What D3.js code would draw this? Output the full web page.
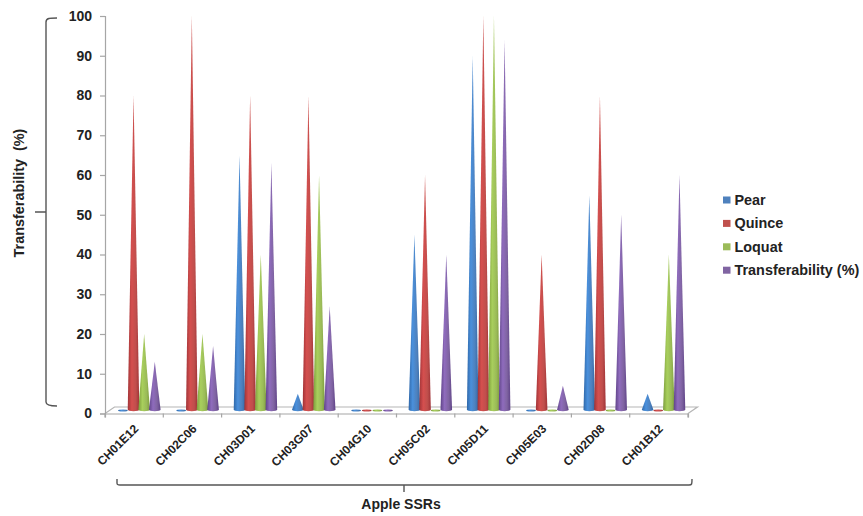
<!DOCTYPE html>
<html>
<head>
<meta charset="utf-8">
<script src="https://cdn.jsdelivr.net/npm/d3@7"></script>
<style>
  html, body { margin: 0; padding: 0; background: #fff; }
  svg { display: block; font-family: "Liberation Sans", Arial, sans-serif; }
  .y-axis text { font-size: 14px; font-weight: bold; fill: #222; }
  .x-axis text { font-size: 12px; font-weight: bold; fill: #222; }
  .axis path, .axis line { stroke: #a6a6a6; stroke-width: 1.2; }
</style>
</head>
<body>
<svg id="chart" width="863" height="516"></svg>
<script>
const categories = ["CH01E12", "CH02C06", "CH03D01", "CH03G07", "CH04G10", "CH05C02", "CH05D11", "CH05E03", "CH02D08", "CH01B12"];
const seriesNames = ["Pear", "Quince", "Loquat", "Transferability (%)"];
const pear = [0, 0, 65, 5, 0, 45, 90, 0, 55, 5];
const quince = [80, 100, 80, 80, 0, 60, 100, 40, 80, 0];
const loquat = [20, 20, 40, 60, 0, 0, 100, 0, 0, 40];
const transferability = [13, 17, 63, 27, 0, 40, 94, 7, 50, 60];
const yTicks = [0, 10, 20, 30, 40, 50, 60, 70, 80, 90, 100];
const colors = ["#4f81bd", "#c0504d", "#9bbb59", "#8064a2"];
const darkColors = ["#2f67a8", "#a03236", "#7c9c3c", "#5f4388"];
const lightColors = ["#4a90dc", "#d5504f", "#a8cf5c", "#8f6cbd"];

const svg = d3.select("#chart");
const margin = { top: 16, left: 105, bottom: 413.5, right: 688 };
const depth = { x: 9.5, y: 6.5 };

const x = d3.scaleBand().domain(categories).range([margin.left, margin.right]);
const y = d3.scaleLinear().domain([0, 100]).range([margin.bottom, margin.top]);
const xSeries = d3.scaleBand().domain(seriesNames).range([0, 42.5]);

const allSeries = [pear, quince, loquat, transferability];

// Gradients, one per series
const defs = svg.append("defs");
seriesNames.forEach((name, i) => {
  const g = defs.append("linearGradient").attr("id", "cone" + i);
  g.append("stop").attr("offset", "0%").attr("stop-color", darkColors[i]);
  g.append("stop").attr("offset", "35%").attr("stop-color", lightColors[i]);
  g.append("stop").attr("offset", "70%").attr("stop-color", colors[i]);
  g.append("stop").attr("offset", "100%").attr("stop-color", darkColors[i]);
});

// The source is a soft scan, thin cone tips fade out
const soft = defs.append("filter").attr("id", "soft")
  .attr("x", "-40%").attr("width", "180%");
soft.append("feGaussianBlur").attr("stdDeviation", 0.55);

// Floor of the 3D plot
const floorY = y(0), backY = floorY - depth.y;
svg.append("path")
  .attr("d", `M${margin.left},${floorY}L${margin.left + depth.x},${backY}L${margin.right + depth.x},${backY}L${margin.right},${floorY}`)
  .attr("fill", "#fff")
  .attr("stroke", "#b5b5b5")
  .attr("stroke-width", 1.2);

// Axes
svg.append("g")
  .attr("class", "axis y-axis")
  .attr("transform", `translate(${margin.left},0)`)
  .call(d3.axisLeft(y).tickValues(yTicks).tickSize(5).tickPadding(8));

const xAxis = svg.append("g")
  .attr("class", "axis x-axis")
  .attr("transform", `translate(0,${floorY})`)
  .call(d3.axisBottom(x).tickSizeOuter(4).tickSizeInner(0).tickFormat(d => d));

// Ticks sit on the band edges, not the band centres
xAxis.selectAll(".tick line").remove();
xAxis.selectAll(".band-tick")
  .data(d3.range(categories.length + 1))
  .enter().append("line")
  .attr("class", "band-tick")
  .attr("x1", d => margin.left + d * x.bandwidth())
  .attr("x2", d => margin.left + d * x.bandwidth())
  .attr("y1", 0).attr("y2", 4);

xAxis.selectAll(".tick text")
  .attr("text-anchor", "end")
  .attr("transform", "translate(2,13) rotate(-45)")
  .attr("dx", 0).attr("dy", "0.35em").attr("y", 0).attr("x", 0);

// Cones
const baseY = floorY - 3.8;
const rx = 5.8, ry = 1.6;
const coneLeft = c => x(c) + 12.6;

seriesNames.forEach((name, i) => {
  svg.append("g").attr("filter", "url(#soft)").selectAll("path")
    .data(categories.map((c, k) => ({ c, v: allSeries[i][k] })))
    .enter().append("path")
    .attr("fill", `url(#cone${i})`)
    .attr("d", d => {
      const cx = coneLeft(d.c) + xSeries(name) + xSeries.bandwidth() / 2;
      if (d.v === 0) {
        const zy = baseY + 0.8;
        return `M${cx - rx + 1},${zy}A${rx - 1},1.1 0 0 1 ${cx + rx - 1},${zy}A${rx - 1},1.1 0 0 1 ${cx - rx + 1},${zy}Z`;
      }
      return `M${cx - rx},${baseY}L${cx},${y(d.v)}L${cx + rx},${baseY}A${rx},${ry} 0 0 1 ${cx - rx},${baseY}Z`;
    });
});

// Legend
const legend = svg.append("g").selectAll("g")
  .data(seriesNames)
  .enter().append("g")
  .attr("transform", (d, i) => `translate(723,${200 + i * 23.4})`);
legend.append("rect")
  .attr("x", 0).attr("y", -3.5).attr("width", 7.5).attr("height", 7)
  .attr("fill", (d, i) => colors[i]);
legend.append("text")
  .attr("x", 11.5).attr("y", 5)
  .attr("font-size", 14.4).attr("font-weight", "bold").attr("fill", "#222")
  .text(d => d);

// Axis titles
svg.append("text")
  .attr("transform", "translate(24,193) rotate(-90)")
  .attr("text-anchor", "middle")
  .attr("font-size", 14.4).attr("font-weight", "bold").attr("fill", "#222")
  .attr("xml:space", "preserve")
  .text("Transferability  (%)");

svg.append("text")
  .attr("x", 401).attr("y", 509)
  .attr("text-anchor", "middle")
  .attr("font-size", 14).attr("font-weight", "bold").attr("fill", "#222")
  .text("Apple SSRs");

// Brackets
svg.append("path")
  .attr("d", "M57,18C50,18 46,18 46,22L46,402C46,405 50,406 57,406M46,212L35,212")
  .attr("fill", "none").attr("stroke", "#555").attr("stroke-width", 1.4);
svg.append("path")
  .attr("d", "M117,479L117,483C117,485 118,485 120,485L689,485C692,485 692,484 692,479M404,485L404,492")
  .attr("fill", "none").attr("stroke", "#555").attr("stroke-width", 1.4);
</script>
</body>
</html>
